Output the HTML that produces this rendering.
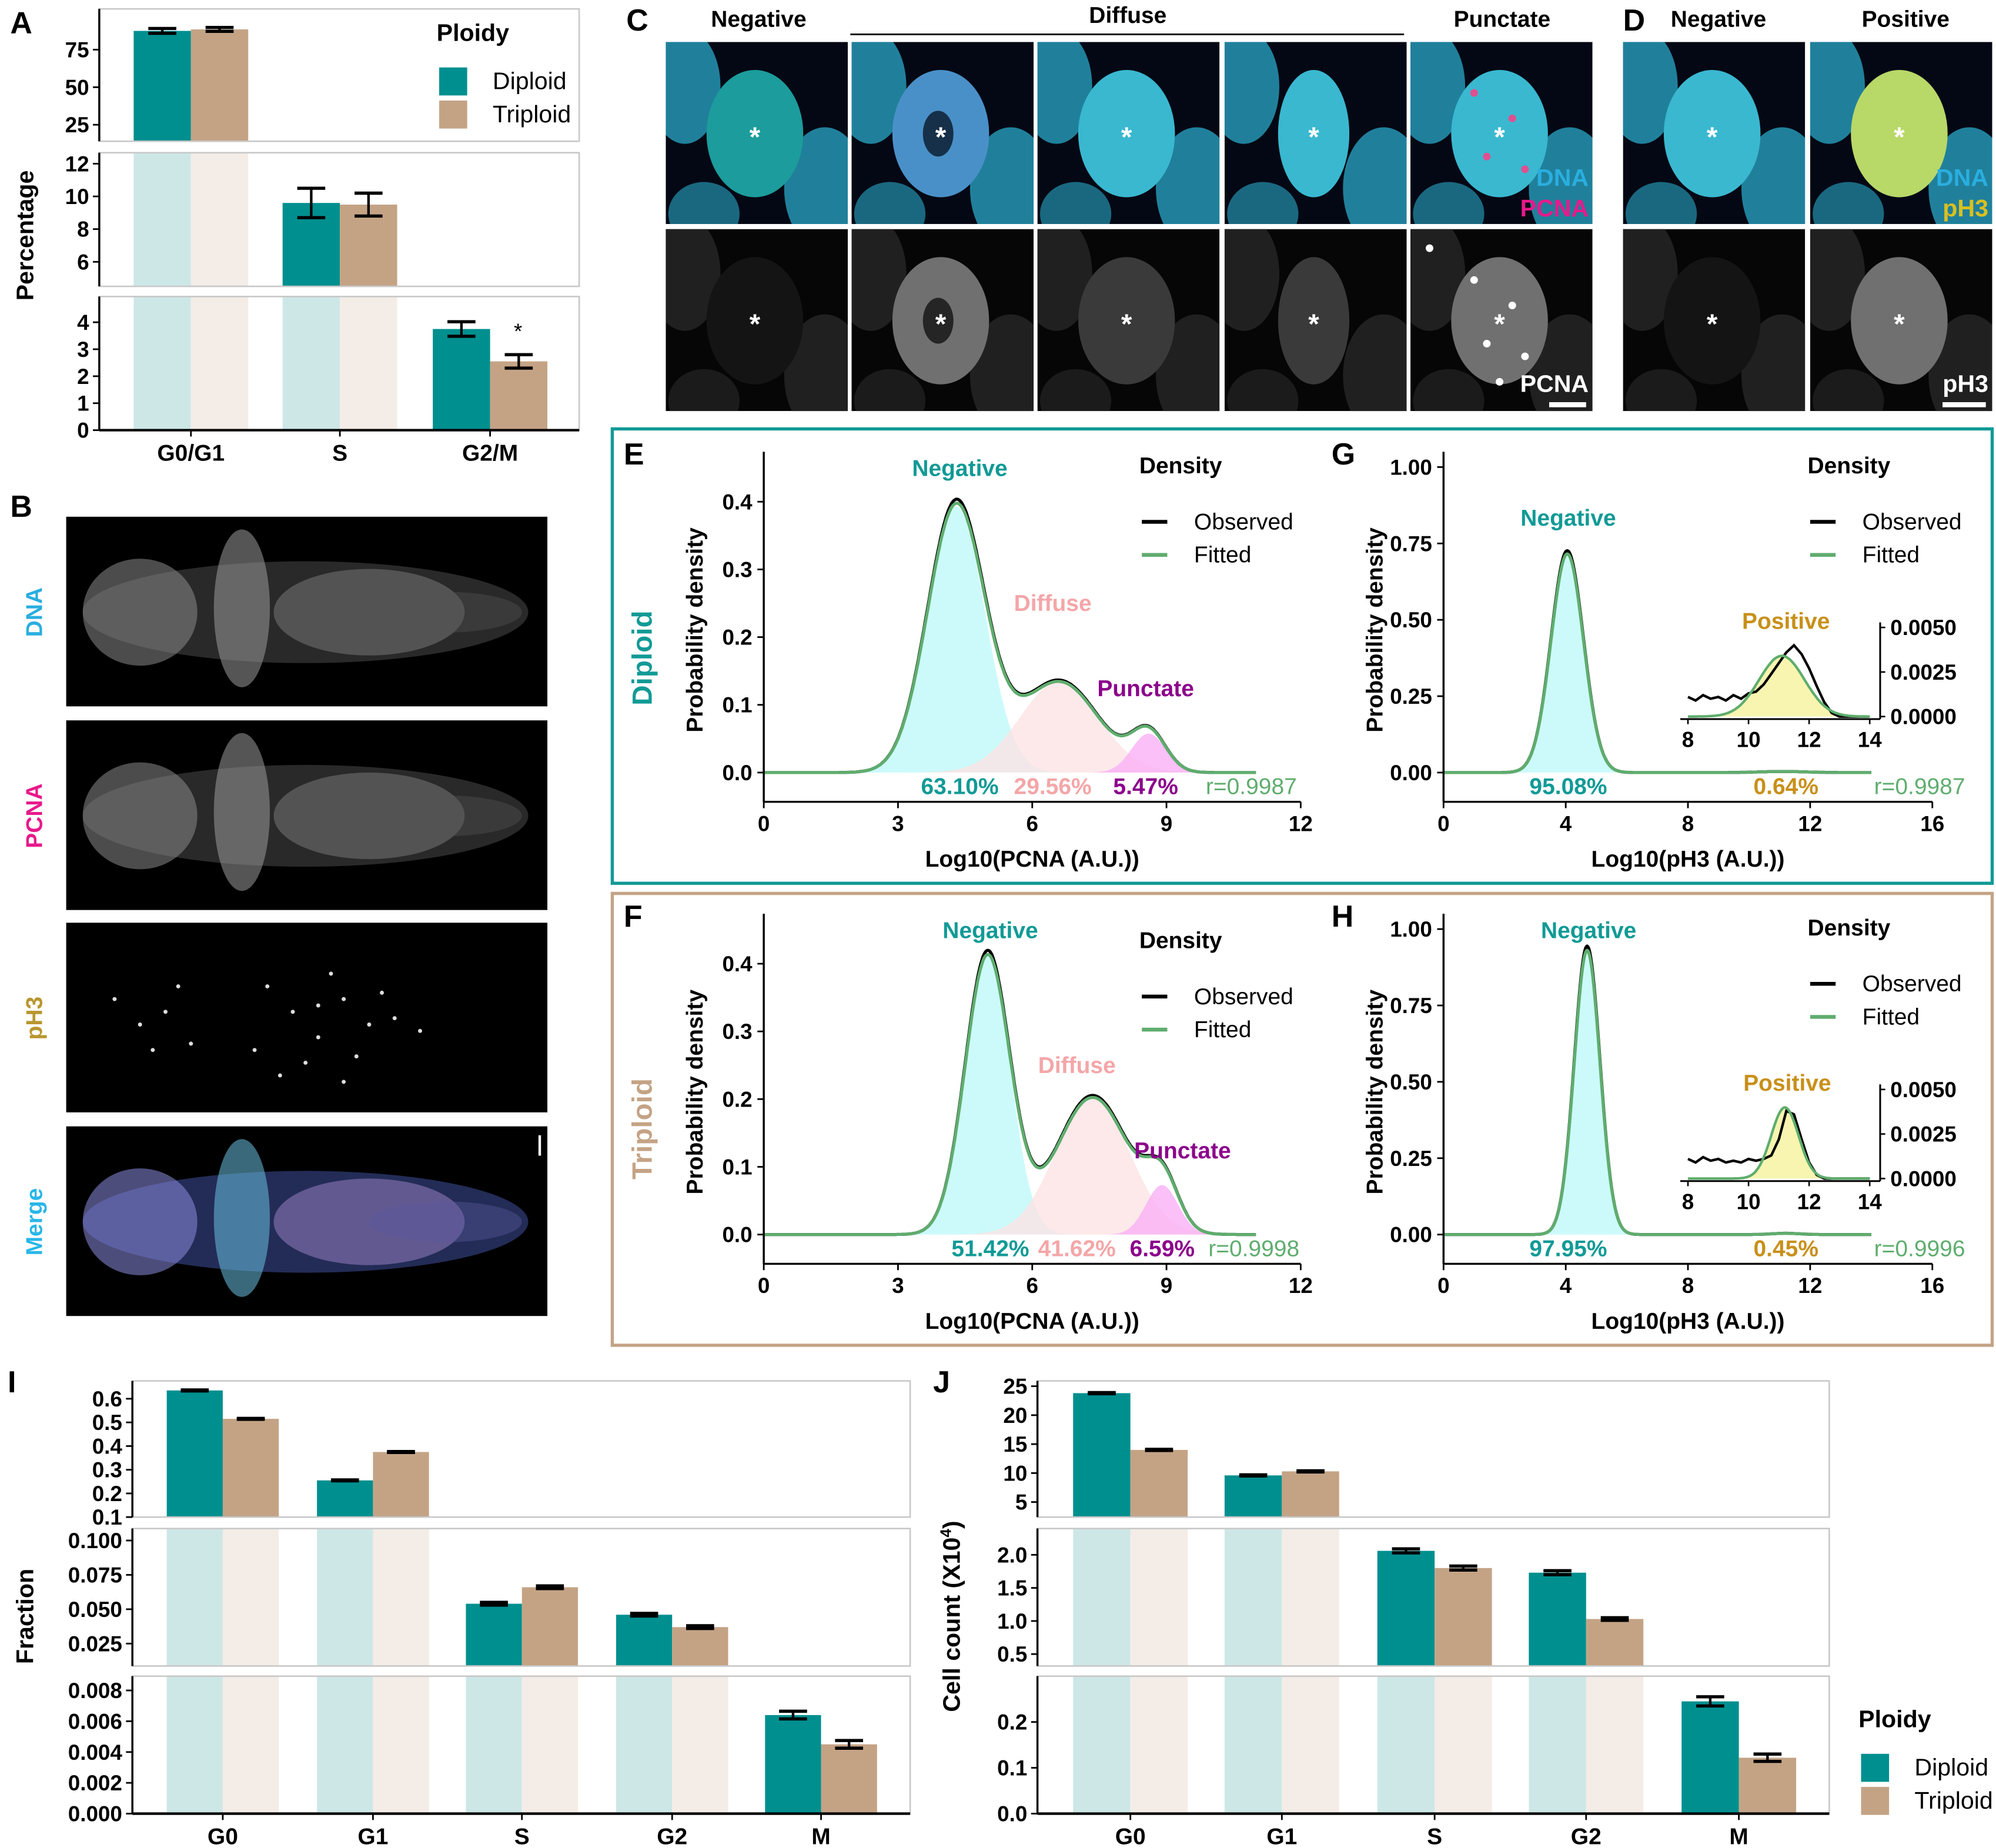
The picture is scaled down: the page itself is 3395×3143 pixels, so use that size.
<!DOCTYPE html>
<html><head><meta charset="utf-8"><title>Figure</title>
<style>
html,body{margin:0;padding:0;background:#fff;}
svg{display:block;font-family:"Liberation Sans",Arial,sans-serif;}
.tk{font-family:"Liberation Sans Narrow","Liberation Sans",sans-serif;font-weight:bold;}
</style></head>
<body>
<svg id="fig" xmlns="http://www.w3.org/2000/svg" width="3395" height="3143" viewBox="0 0 1568 1452" preserveAspectRatio="none"><defs id="defs"></defs></svg>
<script>
// ---------- DATA ----------
const catsA=['G0/G1','S','G2/M'];
const diploidA=[87.5,9.6,3.75];
const triploidA=[88.5,9.5,2.55];
const errDA=[1.6,0.9,0.27];
const errTA=[1.3,0.7,0.25];
const boxOfA=[0,1,2];
const ticksA1=['25','50','75'];
const ticksA2=['6','8','10','12'];
const ticksA3=['0','1','2','3','4'];

const catsI=['G0','G1','S','G2','M'];
const diploidI=[0.635,0.255,0.054,0.046,0.0064];
const triploidI=[0.515,0.375,0.066,0.037,0.0045];
const errDI=[0.002,0.002,0.001,0.001,0.00025];
const errTI=[0.002,0.002,0.001,0.001,0.00025];
const boxOfI=[0,0,1,1,2];
const ticksI1=['0.1','0.2','0.3','0.4','0.5','0.6'];
const ticksI2=['0.025','0.050','0.075','0.100'];
const ticksI3=['0.000','0.002','0.004','0.006','0.008'];

const catsJ=['G0','G1','S','G2','M'];
const diploidJ=[23.8,9.6,2.06,1.73,0.245];
const triploidJ=[14.0,10.3,1.80,1.03,0.122];
const errDJ=[0.1,0.1,0.03,0.03,0.01];
const errTJ=[0.1,0.1,0.03,0.02,0.008];
const boxOfJ=[0,0,1,1,2];
const ticksJ1=['5','10','15','20','25'];
const ticksJ2=['0.5','1.0','1.5','2.0'];
const ticksJ3=['0.0','0.1','0.2'];

const meansE=[4.3,6.6,8.6];
const sdsE=[0.64,0.88,0.38];
const wtsE=[0.631,0.2956,0.0547];
const meansF=[5.0,7.35,8.9];
const sdsF=[0.5,0.82,0.36];
const wtsF=[0.5142,0.4162,0.0659];
const meansG=[4.05,11.1];
const sdsG=[0.53,0.75];
const wtsG=[0.9508,0.0064];
const meansH=[4.7,11.2];
const sdsH=[0.42,0.45];
const wtsH=[0.9795,0.0045];
const insetX=[8,8.25,8.5,8.75,9,9.25,9.5,9.75,10,10.25,10.5,10.75,11,11.25,11.5,11.75,12,12.25,12.5,12.75,13,13.25,13.5,13.75,14];
const obsInsetG=[0.0011,0.0009,0.0012,0.0010,0.0011,0.0009,0.0012,0.0010,0.0013,0.0014,0.0018,0.0024,0.0030,0.0036,0.0040,0.0035,0.0027,0.0017,0.0008,0.0002,0,0,0,0,0];
const obsInsetH=[0.0011,0.0009,0.0012,0.0010,0.0011,0.0009,0.0010,0.0009,0.0011,0.0010,0.0011,0.0013,0.0022,0.0038,0.0036,0.0022,0.0009,0.0002,0,0,0,0,0,0,0];
const xticksE=['0','3','6','9','12'];
const yticksE=['0.0','0.1','0.2','0.3','0.4'];
const xticksG=['0','4','8','12','16'];
const yticksG=['0.00','0.25','0.50','0.75','1.00'];
const insetXt=['8','10','12','14'];
const insetYt=['0.0000','0.0025','0.0050'];

// ---------- HELPERS ----------
const svg=document.getElementById('fig');
const defs=document.getElementById('defs');
const NS='http://www.w3.org/2000/svg';
function mk(tag,attrs,name,parent,txt){
  const e=document.createElementNS(NS,tag);
  for(const k in attrs)e.setAttribute(k,attrs[k]);
  
  
  if(txt!==undefined)e.textContent=txt;
  (parent||svg).appendChild(e);return e;
}
function T(x,y,s,name,o){o=o||{};
  const a={x:x,y:y,'font-size':o.fs||17,'font-weight':o.b?'bold':'normal','text-anchor':o.a||'middle',fill:o.c||'#000'};
  if(o.r)a.transform='rotate(-90 '+x+' '+y+')';
  if(o.cls)a['class']=o.cls;
  return mk('text',a,name,o.p,s);
}
function L(x1,y1,x2,y2,name,c,w,p){return mk('line',{x1:x1,y1:y1,x2:x2,y2:y2,stroke:c||'#000','stroke-width':w||1.5},name,p);}
const TEAL='#008f8f',TAN='#c4a385',LTEAL='#cde7e7',LTAN='#f4ece6';

// ---------- BROKEN BAR CHARTS ----------
function broken(pfx,x0,x1,boxes,centers,bw,cats,dv,tv,de,te,boxOf){
  boxes.forEach((b,i)=>{
    const Y=v=>b.y1-(v-b.v0)*b.ppu;
    cats.forEach((c,j)=>{
      const cx=centers[j];
      if(boxOf[j]<i){
        mk('rect',{x:cx-bw,y:b.y0,width:bw,height:b.y1-b.y0,fill:LTEAL},pfx+'-shadow-diploid-'+c);
        mk('rect',{x:cx,y:b.y0,width:bw,height:b.y1-b.y0,fill:LTAN},pfx+'-shadow-triploid-'+c);
      }
      if(boxOf[j]===i){
        const yd=Math.max(b.y0,Y(dv[j])),yt=Math.max(b.y0,Y(tv[j]));
        mk('rect',{x:cx-bw,y:yd,width:bw,height:b.y1-yd,fill:TEAL},pfx+'-bar-diploid-'+c);
        mk('rect',{x:cx,y:yt,width:bw,height:b.y1-yt,fill:TAN},pfx+'-bar-triploid-'+c);
        [[cx-bw/2,dv[j],de[j]],[cx+bw/2,tv[j],te[j]]].forEach((q,k)=>{
          const ya=Y(q[1]+q[2]),yb=Y(q[1]-q[2]);
          L(q[0],ya,q[0],yb,pfx+'-errorbar-'+c+'-'+k,'#000',2);
          L(q[0]-11,ya,q[0]+11,ya,pfx+'-errorcap-top-'+c+'-'+k,'#000',2.5);
          L(q[0]-11,yb,q[0]+11,yb,pfx+'-errorcap-bottom-'+c+'-'+k,'#000',2.5);
        });
      }
    });
    mk('rect',{x:x0,y:b.y0,width:x1-x0,height:b.y1-b.y0,fill:'none',stroke:'#c8c8c8','stroke-width':1.2},pfx+'-panel-frame-'+(i+1));
    L(x0,b.y0,x0,b.y1,pfx+'-y-axis-'+(i+1),'#000',1.6);
    b.ticks.forEach(t=>{const y=Y(parseFloat(t));
      L(x0-5,y,x0,y,pfx+'-ytick-'+t,'#000',1.3);
      T(x0-8,y+6,t,pfx+'-ytick-label-'+t,{a:'end',fs:17,cls:'tk'});
    });
    if(i===boxes.length-1){
      L(x0,b.y1,x1,b.y1,pfx+'-x-axis','#000',2);
      cats.forEach((c,j)=>{L(centers[j],b.y1,centers[j],b.y1+5,pfx+'-xtick-'+c,'#000',1.3);
        T(centers[j],b.y1+24,c,pfx+'-xtick-label-'+c,{b:true,fs:18});});
    }
  });
}
broken('a',78,455,[
  {y0:7,y1:111,v0:14,ppu:1.18,ticks:ticksA1},
  {y0:120,y1:225,v0:4.5,ppu:12.85,ticks:ticksA2},
  {y0:233,y1:338,v0:0,ppu:21.2,ticks:ticksA3}],
  [150,267,385],45,catsA,diploidA,triploidA,errDA,errTA,boxOfA);
T(407,266,'*','a-significance-star',{fs:17});
broken('i',104,715,[
  {y0:1085,y1:1192,v0:0.1,ppu:186,ticks:ticksI1},
  {y0:1201,y1:1309,v0:0.0087,ppu:1080,ticks:ticksI2},
  {y0:1317,y1:1425,v0:0,ppu:12100,ticks:ticksI3}],
  [175,293,410,528,645],44,catsI,diploidI,triploidI,errDI,errTI,boxOfI);
broken('j',815,1437,[
  {y0:1085,y1:1192,v0:2.4,ppu:4.55,ticks:ticksJ1},
  {y0:1201,y1:1309,v0:0.32,ppu:52,ticks:ticksJ2},
  {y0:1317,y1:1425,v0:0,ppu:360,ticks:ticksJ3}],
  [888,1007,1127,1246,1366],45,catsJ,diploidJ,triploidJ,errDJ,errTJ,boxOfJ);

T(26,185,'Percentage','a-y-axis-title',{b:true,fs:19,r:true});
T(26,1270,'Fraction','i-y-axis-title',{b:true,fs:19,r:true});
const cc=T(754,1270,'Cell count (X10','j-y-axis-title',{b:true,fs:19,r:true});
mk('tspan',{dy:-7,'font-size':12},'j-y-axis-title-exponent',cc,'4');
mk('tspan',{dy:7},'j-y-axis-title-close',cc,')');
function legend(pfx,x,y){
  T(x,y,'Ploidy',pfx+'-legend-title',{b:true,fs:19,a:'start'});
  mk('rect',{x:x+2,y:y+21,width:22,height:22,fill:TEAL},pfx+'-legend-swatch-diploid');
  T(x+44,y+38,'Diploid',pfx+'-legend-label-diploid',{fs:19,a:'start'});
  mk('rect',{x:x+2,y:y+47,width:22,height:22,fill:TAN},pfx+'-legend-swatch-triploid');
  T(x+44,y+64,'Triploid',pfx+'-legend-label-triploid',{fs:19,a:'start'});
}
legend('a',343,32);
legend('j',1460,1357);

[['A',8,26],['B',8,406],['C',492,24],['D',1275,24],['E',490,365],['G',1046,365],['F',490,728],['H',1046,728],['I',6,1094],['J',733,1094]]
.forEach(p=>T(p[1],p[2],p[0],'panel-letter-'+p[0],{b:true,fs:24,a:'start'}));

// ---------- PANEL B ----------
const bY=[406,566,725,885];
const bLab=[['DNA','#2aaee0'],['PCNA','#e8198b'],['pH3','#b8962e'],['Merge','#29b6e8']];
bY.forEach((y,i)=>{
  mk('rect',{x:52,y:y,width:378,height:149,fill:'#000'},'b-image-'+bLab[i][0]);
  if(i!==2){
    const m=i===3;
    mk('ellipse',{cx:240,cy:y+75,rx:175,ry:40,fill:m?'#3a4a90':'#444',opacity:0.6},'b-brain-body-'+i);
    mk('ellipse',{cx:110,cy:y+75,rx:45,ry:42,fill:m?'#8c8ce0':'#8a8a8a',opacity:0.55},'b-brain-forebrain-'+i);
    mk('ellipse',{cx:190,cy:y+72,rx:22,ry:62,fill:m?'#6ac0e0':'#9a9a9a',opacity:0.55},'b-brain-tectum-'+i);
    mk('ellipse',{cx:290,cy:y+75,rx:75,ry:34,fill:m?'#b090d8':'#888',opacity:0.45},'b-brain-hindbrain-'+i);
    mk('ellipse',{cx:350,cy:y+75,rx:60,ry:16,fill:m?'#5a5aa0':'#555',opacity:0.4},'b-brain-tail-'+i);
  } else {
    const px=[90,110,130,150,210,230,250,270,290,310,330,240,260,200,220,280,300,120,140,250,270];
    const py=[60,80,70,95,50,70,90,60,80,75,85,110,40,100,120,105,55,100,50,65,125];
    px.forEach((x,k)=>mk('circle',{cx:x,cy:y+py[k],r:1.6,fill:'#ddd'},'b-ph3-dot'));
  }
  if(i===3)T(33,y+75,'Merge','b-label-merge',{b:true,fs:18,r:true,c:'#29b6e8'});
  else T(33,y+75,bLab[i][0],'b-label-'+bLab[i][0],{b:true,fs:18,r:true,c:bLab[i][1]});
});
L(424,892,424,908,'b-scale-bar','#fff',2);

// ---------- PANELS C & D ----------
T(596,21,'Negative','c-header-negative',{b:true,fs:18});
T(886,18,'Diffuse','c-header-diffuse',{b:true,fs:18});
L(668,27,1103,27,'c-diffuse-bracket','#000',1.3);
T(1180,21,'Punctate','c-header-punctate',{b:true,fs:18});
T(1350,21,'Negative','d-header-negative',{b:true,fs:18});
T(1497,21,'Positive','d-header-positive',{b:true,fs:18});
const colX=[523,669,815,962,1108,1275,1422];
colX.forEach((x,i)=>{
  [33,180].forEach((y,r)=>{
    const id='clip'+i+'_'+r;
    const cp=mk('clipPath',{id:id},'tile-clip',defs);
    mk('rect',{x:x,y:y,width:143,height:143},'tile-clip-rect',cp);
    const gg=mk('g',{'clip-path':'url(#'+id+')'},'micrograph-tile-'+i+'-'+r);
    mk('rect',{x:x,y:y,width:143,height:143,fill:r===0?'#040814':'#060606'},'tile-background',gg);
    const cellC=r===0?'#2aa8c8':'#2a2a2a';
    mk('ellipse',{cx:x+15,cy:y+35,rx:28,ry:45,fill:cellC,opacity:0.75},'cell-neighbor',gg);
    mk('ellipse',{cx:x+125,cy:y+115,rx:32,ry:48,fill:cellC,opacity:0.75},'cell-neighbor',gg);
    mk('ellipse',{cx:x+30,cy:y+135,rx:28,ry:25,fill:cellC,opacity:0.6},'cell-neighbor',gg);
    let mc=r===0?'#3ab8d0':'#3a3a3a';
    if(r===0&&i===0)mc='#1c9c9c';
    if(r===0&&i===1)mc='#4a90c8';
    if(r===0&&i===6)mc='#b8d868';
    if(r===1&&(i===1||i===6||i===4))mc='#707070';
    if(r===1&&(i===0||i===5))mc='#141414';
    mk('ellipse',{cx:x+70,cy:y+72,rx:i===3?28:38,ry:50,fill:mc},'cell-center',gg);
    if(i===1)mk('ellipse',{cx:x+68,cy:y+72,rx:12,ry:18,fill:r===0?'#153048':'#252525'},'cell-nucleolus',gg);
    if(i===4&&r===1){[[50,40],[80,60],[60,90],[90,100],[70,120],[15,15]].forEach(d=>mk('circle',{cx:x+d[0],cy:y+d[1],r:3,fill:'#fff'},'pcna-focus',gg));}
    if(i===4&&r===0){[[50,40],[80,60],[60,90],[90,100]].forEach(d=>mk('circle',{cx:x+d[0],cy:y+d[1],r:3,fill:'#e05090'},'pcna-focus',gg));}
    T(x+70,y+82,'*','cell-asterisk',{fs:22,c:'#fff',b:true,p:gg});
  });
});
T(1248,146,'DNA','c-channel-dna',{b:true,fs:19,a:'end',c:'#2aaee0'});
T(1248,170,'PCNA','c-channel-pcna',{b:true,fs:19,a:'end',c:'#e8198b'});
T(1248,308,'PCNA','c-channel-pcna-gray',{b:true,fs:19,a:'end',c:'#fff'});
L(1217,318,1246,318,'c-scale-bar','#fff',4);
T(1562,146,'DNA','d-channel-dna',{b:true,fs:19,a:'end',c:'#2aaee0'});
T(1562,170,'pH3','d-channel-ph3',{b:true,fs:19,a:'end',c:'#d8c020'});
T(1562,308,'pH3','d-channel-ph3-gray',{b:true,fs:19,a:'end',c:'#fff'});
L(1526,318,1560,318,'d-scale-bar','#fff',4);

// ---------- DENSITY PANELS ----------
mk('rect',{x:481,y:337,width:1084,height:357,fill:'none',stroke:'#119a96','stroke-width':2.5},'diploid-frame');
mk('rect',{x:481,y:702,width:1084,height:355,fill:'none',stroke:'#c4a385','stroke-width':2.5},'triploid-frame');
T(512,517,'Diploid','diploid-label',{b:true,fs:22,r:true,c:'#119a96'});
T(512,887,'Triploid','triploid-label',{b:true,fs:22,r:true,c:'#c4a385'});
function g(x,m,s,w){return w/(s*Math.sqrt(2*Math.PI))*Math.exp(-0.5*((x-m)/s)**2);}
function density(pfx,ox,oy,xppu,yppu,xmax,curveMax,means,sds,wts,fills,xt,yt,xtitle){
  const X=v=>ox+v*xppu,Y=v=>oy-v*yppu;
  const xs=[];for(let k=0;k<=curveMax*40;k++)xs.push(k/40);
  means.forEach((m,j)=>{
    if(!fills[j])return;
    let d='M'+X(0)+','+Y(0);xs.forEach(x=>d+=' L'+X(x).toFixed(1)+','+Y(g(x,m,sds[j],wts[j])).toFixed(1));
    d+=' L'+X(curveMax)+','+Y(0)+'Z';
    mk('path',{d:d,fill:fills[j],opacity:0.8},pfx+'-component-fill-'+j);
  });
  const tot=x=>means.reduce((s,m,j)=>s+g(x,m,sds[j],wts[j]),0);
  let d='';xs.forEach((x,k)=>d+=(k?' L':'M')+X(x).toFixed(1)+','+Y(tot(x)*1.015).toFixed(1));
  mk('path',{d:d,fill:'none',stroke:'#000','stroke-width':2.4},pfx+'-observed-line');
  d='';xs.forEach((x,k)=>d+=(k?' L':'M')+X(x).toFixed(1)+','+Y(tot(x)).toFixed(1));
  mk('path',{d:d,fill:'none',stroke:'#5fad6e','stroke-width':2.4},pfx+'-fitted-line');
  L(ox,oy-252,ox,oy+23,pfx+'-y-axis','#000',1.6);
  L(ox,oy+23,X(xmax),oy+23,pfx+'-x-axis','#000',1.6);
  yt.forEach(t=>{const y=Y(parseFloat(t));L(ox-5,y,ox,y,pfx+'-ytick-'+t,'#000',1.3);
    T(ox-9,y+6,t,pfx+'-ytick-label-'+t,{a:'end',fs:17,cls:'tk'});});
  xt.forEach(t=>{const x=X(parseFloat(t));L(x,oy+23,x,oy+28,pfx+'-xtick-'+t,'#000',1.3);
    T(x,oy+46,t,pfx+'-xtick-label-'+t,{fs:17,cls:'tk'});});
  T((ox+X(xmax))/2,oy+74,xtitle,pfx+'-x-axis-title',{b:true,fs:18});
  T(ox-48,oy-112,'Probability density',pfx+'-y-axis-title',{b:true,fs:18,r:true});
}
function densLegend(pfx,x,y){
  T(x,y,'Density',pfx+'-legend-title',{b:true,fs:18,a:'start'});
  L(x+2,y+38,x+22,y+38,pfx+'-legend-line-observed','#000',3);
  T(x+43,y+44,'Observed',pfx+'-legend-label-observed',{fs:18,a:'start'});
  L(x+2,y+64,x+22,y+64,pfx+'-legend-line-fitted','#5fad6e',3);
  T(x+43,y+70,'Fitted',pfx+'-legend-label-fitted',{fs:18,a:'start'});
}
const pcFills=['#bff9f9','#fde3e5','#f9b0f5'];
density('e',600,607,35.15,532,12,11,meansE,sdsE,wtsE,pcFills,xticksE,yticksE,'Log10(PCNA (A.U.))');
densLegend('e',895,372);
T(754,374,'Negative','e-label-negative',{b:true,fs:18,c:'#119a96'});
T(827,480,'Diffuse','e-label-diffuse',{b:true,fs:18,c:'#f4a6a8'});
T(900,547,'Punctate','e-label-punctate',{b:true,fs:18,c:'#8b008b'});
T(754,624,'63.10%','e-pct-negative',{b:true,fs:18,c:'#119a96'});
T(827,624,'29.56%','e-pct-diffuse',{b:true,fs:18,c:'#f4a6a8'});
T(900,624,'5.47%','e-pct-punctate',{b:true,fs:18,c:'#8b008b'});
T(983,624,'r=0.9987','e-correlation',{fs:18,c:'#5fad6e'});
density('f',600,970,35.15,532,12,11,meansF,sdsF,wtsF,pcFills,xticksE,yticksE,'Log10(PCNA (A.U.))');
densLegend('f',895,745);
T(778,737,'Negative','f-label-negative',{b:true,fs:18,c:'#119a96'});
T(846,843,'Diffuse','f-label-diffuse',{b:true,fs:18,c:'#f4a6a8'});
T(929,910,'Punctate','f-label-punctate',{b:true,fs:18,c:'#8b008b'});
T(778,987,'51.42%','f-pct-negative',{b:true,fs:18,c:'#119a96'});
T(846,987,'41.62%','f-pct-diffuse',{b:true,fs:18,c:'#f4a6a8'});
T(913,987,'6.59%','f-pct-punctate',{b:true,fs:18,c:'#8b008b'});
T(985,987,'r=0.9998','f-correlation',{fs:18,c:'#5fad6e'});
function ph3(pfx,oy,means,sds,wts,obs,lab){
  density(pfx,1134,oy,24,240,16,14,means,sds,wts,['#bff9f9',null],xticksG,yticksG,'Log10(pH3 (A.U.))');
  densLegend(pfx,1420,oy-235);
  const iy=oy-44;
  const X=v=>1326+(v-8)*23.8,Y=v=>iy-v*14000;
  const xs=[];for(let k=0;k<=240;k++)xs.push(8+k/40);
  let d='M'+X(8)+','+Y(0);xs.forEach(x=>d+=' L'+X(x).toFixed(1)+','+Y(g(x,means[1],sds[1],wts[1])).toFixed(1));d+=' L'+X(14)+','+Y(0)+'Z';
  mk('path',{d:d,fill:'#f7f5b0'},pfx+'-inset-positive-fill');
  d='';insetX.forEach((x,k)=>d+=(k?' L':'M')+X(x).toFixed(1)+','+Y(obs[k]).toFixed(1));
  mk('path',{d:d,fill:'none',stroke:'#000','stroke-width':2},pfx+'-inset-observed-line');
  d='';xs.forEach((x,k)=>d+=(k?' L':'M')+X(x).toFixed(1)+','+Y(g(x,means[1],sds[1],wts[1])).toFixed(1));
  mk('path',{d:d,fill:'none',stroke:'#5fad6e','stroke-width':2},pfx+'-inset-fitted-line');
  L(1320,iy+2,1477,iy+2,pfx+'-inset-x-axis','#000',1.4);
  L(1477,iy+2,1477,iy-74,pfx+'-inset-y-axis','#000',1.4);
  insetXt.forEach(t=>{const x=X(parseFloat(t));L(x,iy+2,x,iy+6,pfx+'-inset-xtick-'+t,'#000',1.2);
    T(x,iy+24,t,pfx+'-inset-xtick-label-'+t,{fs:17,cls:'tk'});});
  insetYt.forEach(t=>{const y=Y(parseFloat(t));L(1477,y,1481,y,pfx+'-inset-ytick-'+t,'#000',1.2);
    T(1485,y+6,t,pfx+'-inset-ytick-label-'+t,{fs:17,a:'start',cls:'tk'});});
  T(lab[0],lab[1],'Negative',pfx+'-label-negative',{b:true,fs:18,c:'#119a96'});
  T(lab[2],lab[3],'Positive',pfx+'-label-positive',{b:true,fs:18,c:'#c8901a'});
  T(1232,oy+17,lab[4],pfx+'-pct-negative',{b:true,fs:18,c:'#119a96'});
  T(1403,oy+17,lab[5],pfx+'-pct-positive',{b:true,fs:18,c:'#c8901a'});
  T(1508,oy+17,lab[6],pfx+'-correlation',{fs:18,c:'#5fad6e'});
}
ph3('g',607,meansG,sdsG,wtsG,obsInsetG,[1232,413,1403,494,'95.08%','0.64%','r=0.9987']);
ph3('h',970,meansH,sdsH,wtsH,obsInsetH,[1248,737,1404,857,'97.95%','0.45%','r=0.9996']);
</script>
</body></html>
